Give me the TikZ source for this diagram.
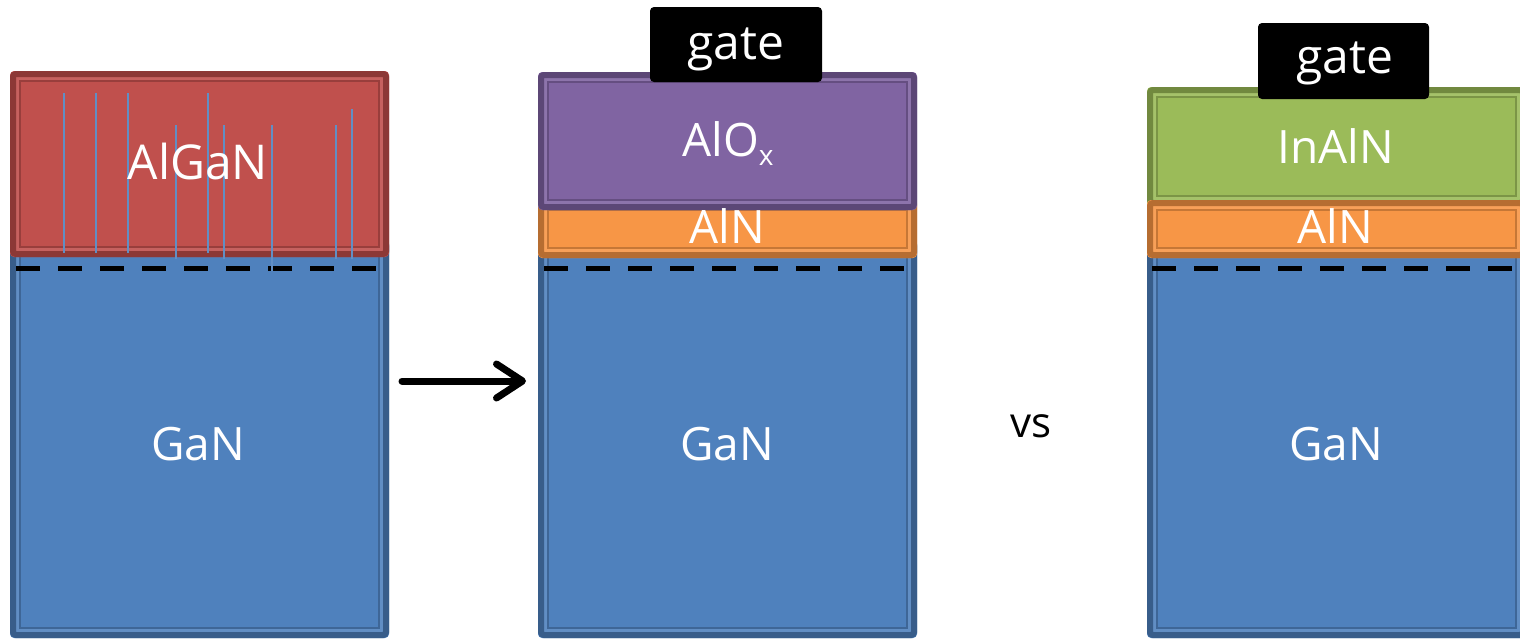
\documentclass[tikz,border=0pt]{standalone}
\usepackage{fontspec}
\setmainfont{Open Sans}
\usetikzlibrary{arrows.meta}
\definecolor{redF}{HTML}{C0504D}\definecolor{redB}{HTML}{8C3836}
\definecolor{bluF}{HTML}{4F81BD}\definecolor{bluB}{HTML}{385D8A}
\definecolor{purF}{HTML}{8064A2}\definecolor{purB}{HTML}{5C4776}
\definecolor{orgF}{HTML}{F79646}\definecolor{orgB}{HTML}{B66D31}
\definecolor{grnF}{HTML}{9BBB59}\definecolor{grnB}{HTML}{71893F}
\newcommand\mylayer[6]{%
  \fill[#5, rounded corners=4] (#1,#2) rectangle (#3,#4);
  \draw[#5!90!white, line width=3] (#1+7.5,#2+7.5) rectangle (#3-7.5,#4-7.5);
  \draw[#6, line width=6, rounded corners=3] (#1+3,#2+3) rectangle (#3-3,#4-3);
  \draw[#6!75!#5, line width=1.6] (#1+10,#2+10) rectangle (#3-10,#4-10);
}
\tikzset{
  lbl/.style={text=white, font=\fontsize{46}{46}\selectfont, inner sep=0, anchor=base},
  gatebox/.style={fill=black, rounded corners=4, draw=none, inner sep=0},
  gatelbl/.style={text=white, font=\fontsize{48}{48}\selectfont, inner sep=0, anchor=base},
  twodeg/.style={black, line width=5.5pt, dash pattern=on 24pt off 18pt},
  disl/.style={bluF!90!white, line width=1.6pt},
  arr/.style={black, line width=7pt, line cap=round, -{Straight Barb[length=26pt, width=34pt, round]}},
}
\begin{document}
\begin{tikzpicture}[x=1pt, y=-1pt]
\useasboundingbox (0,0) rectangle (1520,640);
\fill[white] (0,0) rectangle (1520,640);
% ---------- left stack
\mylayer{10}{240}{389}{638}{bluF}{bluB}
\mylayer{10}{71}{389}{257}{redF}{redB}
\draw[twodeg] (16,268.5) -- (376,268.5);
\foreach \x/\a/\b in {64/93/253, 96/93/253, 128/93/253, 176/125/259, 208/93/253, 224/125/259, 272/125/271, 336/125/259, 352/109/259}
  \draw[disl] (\x,\a) -- (\x,\b);
\node[lbl, font=\fontsize{48}{48}\selectfont] (algan) at (198,179) {AlGaN};
\node[lbl] (gan1) at (198,460) {GaN};
% ---------- arrow
\coordinate (as) at (402,381);
\coordinate (ae) at (526,381);
\draw[arr] (as) -- (ae);
% ---------- middle stack
\mylayer{538}{240}{917}{638}{bluF}{bluB}
\mylayer{538}{200}{917}{258}{orgF}{orgB}
\mylayer{538}{72}{917}{210}{purF}{purB}
\draw[twodeg] (544,268.5) -- (904,268.5);
\node[gatebox, minimum width=172, minimum height=75] (gate1) at (736,44.5) {};
\node[gatelbl] (gatet1) at (736,59) {gate};
\node[lbl] (alox) at (728,156) {AlO\raisebox{-9pt}{\fontsize{28}{28}\selectfont x}};
\node[lbl] (aln1) at (727,243) {AlN};
\node[lbl] (gan2) at (727,460) {GaN};
% ---------- vs
\node[text=black, font=\fontsize{42}{42}\selectfont, inner sep=0, anchor=base] (vs) at (1031,437) {vs};
% ---------- right stack
\mylayer{1147}{240}{1526}{638}{bluF}{bluB}
\mylayer{1147}{87}{1526}{206}{grnF}{grnB}
\mylayer{1147}{200}{1526}{258}{orgF}{orgB}
\draw[twodeg] (1152,268.5) -- (1520,268.5);
\node[gatebox, minimum width=171, minimum height=76] (gate2) at (1343.5,61) {};
\node[gatelbl] (gatet2) at (1345,73) {gate};
\node[lbl] (inaln) at (1336,163) {InAlN};
\node[lbl] (aln2) at (1335,243) {AlN};
\node[lbl] (gan3) at (1336,460) {GaN};
\end{tikzpicture}
\end{document}
